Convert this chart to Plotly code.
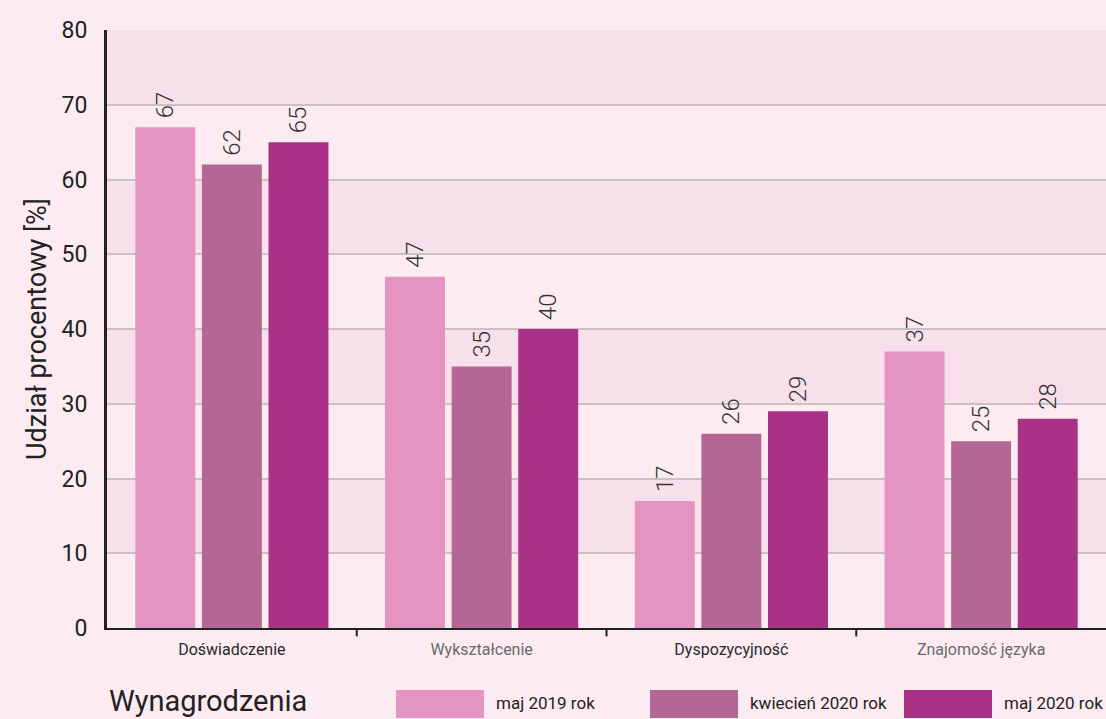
import plotly.graph_objects as go

categories = ["Doświadczenie", "Wykształcenie", "Dyspozycyjność", "Znajomość języka"]
series_names = ["maj 2019 rok", "kwiecień 2020 rok", "maj 2020 rok"]
may2019 = [67, 47, 17, 37]
apr2020 = [62, 35, 26, 25]
may2020 = [65, 40, 29, 28]
y_ticks = [0, 10, 20, 30, 40, 50, 60, 70, 80]
label_colors = ["#2a2a2a", "#6a6a6a", "#2a2a2a", "#6a6a6a"]

colors = ["#e394c0", "#b46795", "#a93287"]
bg = "#fcecf2"
band = "#f7e0ea"

fig = go.Figure()
for name, vals, col in zip(series_names, [may2019, apr2020, may2020], colors):
    fig.add_trace(go.Bar(
        x=categories, y=vals, name=name, marker=dict(color=col, line=dict(width=0)),
        text=["\u00a0" + str(v) for v in vals], textposition="outside", textangle=-90,
        textfont=dict(family="Roboto", size=24, color="#333333", weight=300),
        cliponaxis=False, showlegend=False,
    ))

shapes = []
for lo in [10, 30, 50, 70]:
    shapes.append(dict(type="rect", xref="paper", yref="y", x0=0, x1=1, y0=lo, y1=lo + 10,
                       fillcolor=band, line=dict(width=0), layer="below"))
# category separator ticks
for i in range(1, len(categories)):
    shapes.append(dict(type="line", xref="x", yref="paper", x0=i - 0.5, x1=i - 0.5,
                       y0=0, y1=-0.014, line=dict(color="#222222", width=2)))

annotations = []
legend_x = [396, 650, 904]
for i, (name, col) in enumerate(zip(series_names, colors)):
    x0 = (legend_x[i] - 107) / 999
    x1 = (legend_x[i] + 88 - 107) / 999
    shapes.append(dict(type="rect", xref="paper", yref="paper", x0=x0, x1=x1,
                       y0=-(690 - 628) / 598, y1=-(718 - 628) / 598,
                       fillcolor=col, line=dict(width=0)))
    annotations.append(dict(text=name, xref="paper", yref="paper",
                            x=(legend_x[i] + 98 - 107) / 999, y=-(703 - 628) / 598,
                            xanchor="left", yanchor="middle", showarrow=False,
                            font=dict(family="Roboto", size=17, color="#222222")))
annotations.append(dict(text="Wynagrodzenia", xref="paper", yref="paper",
                        x=0, y=-(701 - 628) / 598, xanchor="left", yanchor="middle",
                        showarrow=False, font=dict(family="Roboto", size=29, color="#222222")))

ticktext = [f'<span style="color:{c}">{t}</span>' for t, c in zip(categories, label_colors)]

fig.update_layout(
    width=1106, height=719,
    margin=dict(l=107, r=0, t=30, b=91),
    paper_bgcolor=bg, plot_bgcolor=bg,
    bargap=0.2, bargroupgap=0.1, barmode="group",
    shapes=shapes, annotations=annotations,
    xaxis=dict(tickmode="array", tickvals=categories, ticktext=ticktext,
               tickfont=dict(family="Roboto", size=16, color="#222222"),
               showline=True, linecolor="#222222", linewidth=2, ticks="",
               ticklabelstandoff=6,
               showgrid=False, range=[-0.5, 3.5]),
    yaxis=dict(range=[0, 80], tickvals=y_ticks, showgrid=True, gridcolor="#c9c1c5", gridwidth=1.5,
               tickfont=dict(family="Roboto", size=23, color="#222222"),
               ticklabelstandoff=12,
               showline=True, linecolor="#222222", linewidth=3, ticks="", zeroline=False,
               title=dict(text="Udział procentowy [%]", font=dict(family="Roboto", size=27, color="#222222"),
                          standoff=8)),
    font=dict(family="Roboto"),
)

fig.write_html("out.html")
